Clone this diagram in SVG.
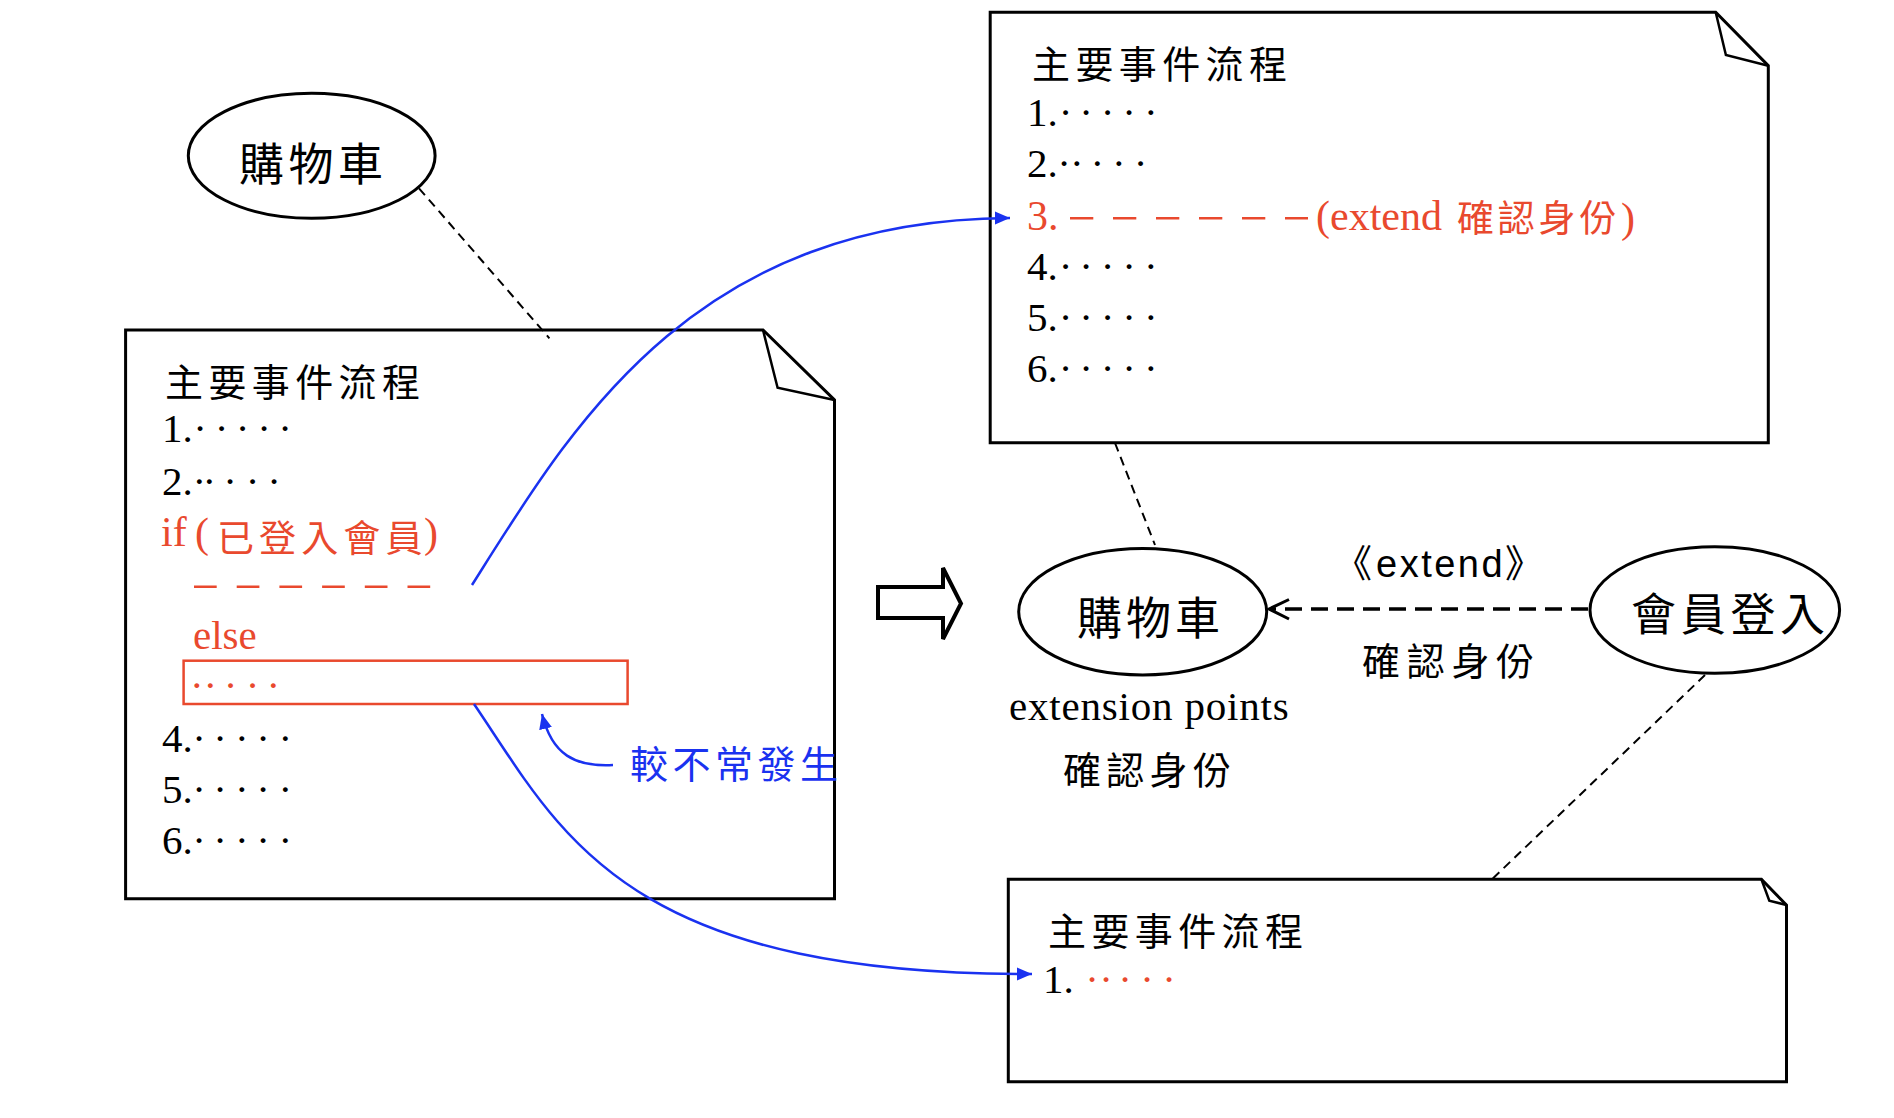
<svg xmlns="http://www.w3.org/2000/svg" width="1894" height="1118" viewBox="0 0 1894 1118">
<defs>
<style>
.box{fill:#fff;stroke:#000;stroke-width:3;stroke-linejoin:miter}
.fold{fill:none;stroke:#000;stroke-width:2.5;stroke-linejoin:miter}
.uc{fill:#fff;stroke:#000;stroke-width:3}
.cjk{font-family:"Noto Sans CJK TC","Noto Sans CJK SC",sans-serif}
.ser{font-family:"Liberation Serif","Times New Roman",serif}
.sans{font-family:"Liberation Sans",Arial,sans-serif}
.red{fill:#E9492E}
.blue{fill:#1A32F0}
.dot{font-family:"Liberation Serif","Times New Roman",serif;font-size:41px;text-anchor:middle}
.num{font-family:"Liberation Serif","Times New Roman",serif;font-size:41px}
.head{font-family:"Noto Sans CJK TC","Noto Sans CJK SC",sans-serif;font-size:38px;letter-spacing:5.4px}
.link{fill:none;stroke:#000;stroke-width:2;stroke-dasharray:9 6}
.flow{fill:none;stroke:#1A32F0;stroke-width:2.5}
</style>
<marker id="ah" markerUnits="userSpaceOnUse" markerWidth="16" markerHeight="14" refX="15" refY="7" orient="auto">
<path d="M0,0.5 L15,7 L0,13.5 Z" fill="#1A32F0"/>
</marker>
</defs>
<rect width="1894" height="1118" fill="#fff"/>

<g id="flow-left">
<path class="box" d="M125.6,330 H763 L834.5,400 V898.7 H125.6 Z"/>
<path class="fold" d="M763,330 L777.6,387.7 L834.5,400"/>
<text class="head" x="165" y="396">主要事件流程</text>
<text class="num" x="162" y="442">1.</text>
<text class="dot" x="200 221.7 242.7 264 285" y="442">·····</text>
<text class="num" x="162" y="495">2.</text>
<text class="dot" x="199.3 209.3 230 252.7 274" y="495">·····</text>
<text class="red" y="546" font-size="42"><tspan class="ser" x="161">if</tspan><tspan class="ser" x="195" y="547" font-size="42">(</tspan><tspan class="cjk" x="217" y="552" font-size="37" letter-spacing="5.1">已登入會員</tspan><tspan class="ser" x="424" y="547" font-size="42">)</tspan></text>
<line x1="194" y1="586.7" x2="431" y2="586.7" stroke="#E9492E" stroke-width="2.5" stroke-dasharray="22.7 20"/>
<text class="num red" x="193" y="649">else</text>
<rect x="183.6" y="660.7" width="444" height="43.3" fill="none" stroke="#E9492E" stroke-width="2.5"/>
<text class="dot red" x="196.8 210.4 230.7 252.5 273.3" y="698.5">·····</text>
<text class="num" x="162" y="752">4.</text>
<text class="dot" x="199.2 220 241.8 263 285.4" y="752">·····</text>
<text class="num" x="162" y="803">5.</text>
<text class="dot" x="199.2 220 241.8 263 285.4" y="803">·····</text>
<text class="num" x="162" y="854">6.</text>
<text class="dot" x="199.2 220 241.8 263 285.4" y="854">·····</text>
</g>

<g id="note-rare">
<text class="cjk blue" x="630" y="778" font-size="38" letter-spacing="4.5">較不常發生</text>
</g>

<g id="flow-cart">
<path class="box" d="M990.2,12.3 H1715.7 L1768.3,65.7 V442.7 H990.2 Z"/>
<path class="fold" d="M1715.7,12.3 L1725.9,55 L1768.3,65.7"/>
<text class="head" x="1032" y="78">主要事件流程</text>
<text class="num" x="1027" y="126">1.</text>
<text class="dot" x="1065.7 1086.1 1107.6 1129 1150.9" y="126">·····</text>
<text class="num" x="1027" y="177">2.</text>
<text class="dot" x="1064.2 1076.9 1097.3 1118.8 1140.7" y="177">·····</text>
<text class="red" y="230" font-size="42"><tspan class="ser" x="1027">3.</tspan><tspan class="ser" x="1316">(extend</tspan><tspan class="cjk" x="1457" y="231.6" font-size="37" letter-spacing="3.8">確認身份</tspan><tspan class="ser" x="1621">)</tspan></text>
<line x1="1070" y1="218.3" x2="1308" y2="218.3" stroke="#E9492E" stroke-width="2.5" stroke-dasharray="23.3 19.7"/>
<text class="num" x="1027" y="280">4.</text>
<text class="dot" x="1065.7 1086.1 1107.6 1129 1150.9" y="280">·····</text>
<text class="num" x="1027" y="331">5.</text>
<text class="dot" x="1065.7 1086.1 1107.6 1129 1150.9" y="331">·····</text>
<text class="num" x="1027" y="382">6.</text>
<text class="dot" x="1065.7 1086.1 1107.6 1129 1150.9" y="382">·····</text>
</g>

<g id="flow-login">
<path class="box" d="M1008.3,879.3 H1761.4 L1786.5,905 V1081.7 H1008.3 Z"/>
<path class="fold" d="M1761.4,879.3 L1769.3,900.7 L1786.5,905"/>
<text class="head" x="1048" y="945">主要事件流程</text>
<text class="num" x="1043" y="993">1.</text>
<text class="dot red" x="1092 1106 1125 1147 1169" y="993">·····</text>
</g>

<g id="uc-cart-old">
<ellipse class="uc" cx="311.7" cy="155.8" rx="123.4" ry="62.5"/>
<text class="cjk" x="239" y="181" font-size="45" letter-spacing="4.5">購物車</text>
</g>

<g id="uc-cart">
<ellipse class="uc" cx="1142.7" cy="611.7" rx="124" ry="63.3"/>
<text class="cjk" x="1077" y="634.5" font-size="45" letter-spacing="4">購物車</text>
<text class="ser" x="1009" y="720" font-size="41" letter-spacing="0.8">extension points</text>
<text class="cjk" x="1063" y="783.5" font-size="38" letter-spacing="5.3">確認身份</text>
</g>

<g id="uc-login">
<ellipse class="uc" cx="1714.8" cy="610" rx="124.8" ry="63.3"/>
<text class="cjk" x="1631" y="631" font-size="45" letter-spacing="4.7">會員登入</text>
</g>

<g id="transform-arrow">
<path d="M878,587 H943 V568 L961,603.5 L943,639 V618 H878 Z" fill="#fff" stroke="#000" stroke-width="4" stroke-linejoin="miter"/>
</g>

<g id="connectors">
<line class="link" x1="419" y1="188.3" x2="549.4" y2="338.3"/>
<line class="link" x1="1115" y1="443" x2="1155" y2="545"/>
<line class="link" x1="1705" y1="675" x2="1492" y2="879.3"/>
<path class="flow" d="M472,585 C570,430 690,220 1010,218" marker-end="url(#ah)"/>
<path class="flow" d="M474,704 C560,830 620,975 1032,974" marker-end="url(#ah)"/>
<path class="flow" d="M613,765 C575,767 552,755 542,714" marker-end="url(#ah)"/>
<line x1="1588" y1="609" x2="1270" y2="609" stroke="#000" stroke-width="3.5" stroke-dasharray="17 9"/>
<polyline points="1289,599.5 1269,609 1289,619" fill="none" stroke="#000" stroke-width="3"/>
<text y="576.7" font-size="38"><tspan class="cjk" x="1334">《</tspan><tspan class="sans" x="1376" letter-spacing="2.5">extend</tspan><tspan class="cjk" x="1505">》</tspan></text>
<text class="cjk" x="1362" y="675.4" font-size="38" letter-spacing="6.7">確認身份</text>
</g>
</svg>
